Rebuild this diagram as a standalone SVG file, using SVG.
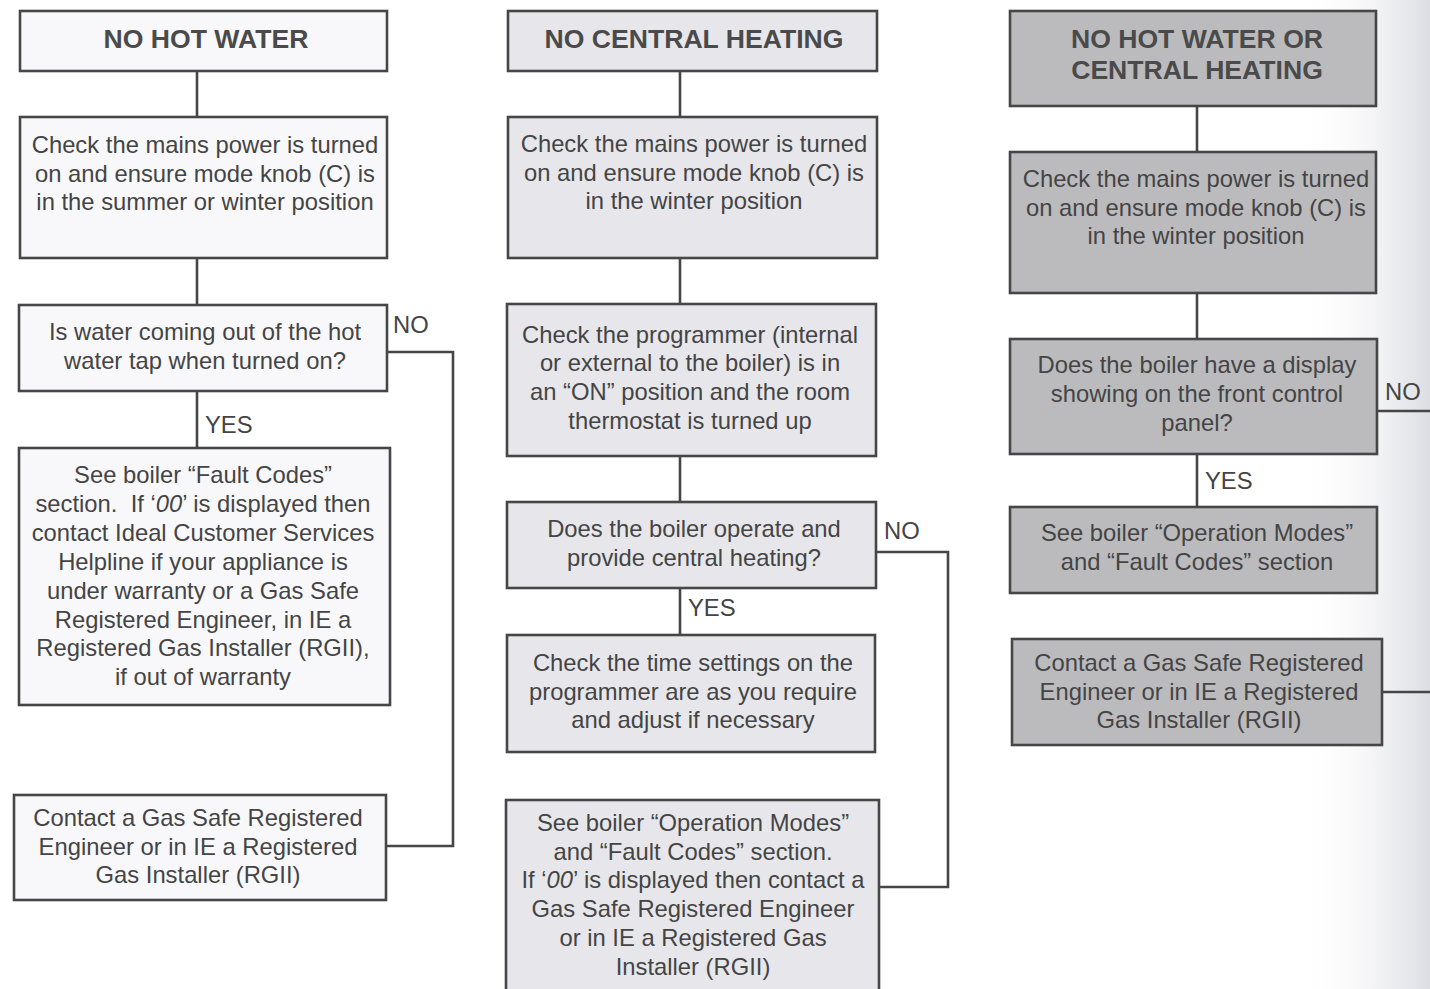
<svg xmlns="http://www.w3.org/2000/svg" width="1430" height="989" viewBox="0 0 1430 989">
<defs>
<linearGradient id="edge" x1="0" y1="0" x2="1" y2="0">
<stop offset="0" stop-color="#ffffff" stop-opacity="0"/>
<stop offset="1" stop-color="#dcdde3"/>
</linearGradient>
<style>
.box{stroke:#464646;stroke-width:2.6}
.c1{fill:#f8f8fb}
.c2{fill:#e7e7eb}
.c3{fill:#bbbbbe}
.t{font-family:"Liberation Sans",Arial,sans-serif;font-size:23.8px;fill:#444;text-anchor:middle}
.h{font-family:"Liberation Sans",Arial,sans-serif;font-size:26.6px;font-weight:bold;fill:#4a4a4a;text-anchor:middle}
.l{font-family:"Liberation Sans",Arial,sans-serif;font-size:23.8px;fill:#444}
.conn{fill:none;stroke:#464646;stroke-width:2.6}
</style>
</defs>
<rect width="1430" height="989" fill="#ffffff"/>
<rect x="1300" y="0" width="130" height="989" fill="url(#edge)"/>

<g id="connectors">
<path class="conn" d="M197 71V117M197 258V305M197 391V448"/>
<path class="conn" d="M387 352H453V846H385"/>
<path class="conn" d="M680 71V117M680 258V304M680 456V502M680 588V635"/>
<path class="conn" d="M876 552H948V887H879"/>
<path class="conn" d="M1197 106V152M1197 293V339M1197 454V507"/>
<path class="conn" d="M1377 411H1430M1382 692H1430"/>
</g>

<g id="labels">
<text class="l" x="393" y="333">NO</text>
<text class="l" x="205" y="433">YES</text>
<text class="l" x="884" y="539">NO</text>
<text class="l" x="688" y="616">YES</text>
<text class="l" x="1385" y="400">NO</text>
<text class="l" x="1205" y="489">YES</text>
</g>

<g id="n1-title"><rect class="box c1" x="20" y="11" width="367" height="60"/>
<text class="h" x="206" y="48">NO HOT WATER</text></g>
<g id="n1-power"><rect class="box c1" x="20" y="117" width="367" height="141"/>
<text class="t" x="205"><tspan x="205" y="153">Check the mains power is turned</tspan><tspan x="205" y="182">on and ensure mode knob (C) is</tspan><tspan x="205" y="210">in the summer or winter position</tspan></text></g>
<g id="n1-tap"><rect class="box c1" x="19" y="305" width="368" height="86"/>
<text class="t" x="205"><tspan x="205" y="340">Is water coming out of the hot</tspan><tspan x="205" y="369">water tap when turned on?</tspan></text></g>
<g id="n1-fault"><rect class="box c1" x="19" y="448" width="371" height="257"/>
<text class="t" x="203"><tspan x="203" y="483">See boiler “Fault Codes”</tspan><tspan x="203" y="512">section.&#160; If ‘<tspan font-style="italic">00</tspan>’ is displayed then</tspan><tspan x="203" y="541">contact Ideal Customer Services</tspan><tspan x="203" y="570">Helpline if your appliance is</tspan><tspan x="203" y="599">under warranty or a Gas Safe</tspan><tspan x="203" y="628">Registered Engineer, in IE a</tspan><tspan x="203" y="656">Registered Gas Installer (RGII),</tspan><tspan x="203" y="685">if out of warranty</tspan></text></g>
<g id="n1-contact"><rect class="box c1" x="14" y="795" width="372" height="105"/>
<text class="t" x="198"><tspan x="198" y="826">Contact a Gas Safe Registered</tspan><tspan x="198" y="855">Engineer or in IE a Registered</tspan><tspan x="198" y="883">Gas Installer (RGII)</tspan></text></g>

<g id="n2-title"><rect class="box c2" x="508" y="11" width="369" height="60"/>
<text class="h" x="694" y="48">NO CENTRAL HEATING</text></g>
<g id="n2-power"><rect class="box c2" x="508" y="117" width="369" height="141"/>
<text class="t" x="694"><tspan x="694" y="152">Check the mains power is turned</tspan><tspan x="694" y="181">on and ensure mode knob (C) is</tspan><tspan x="694" y="209">in the winter position</tspan></text></g>
<g id="n2-prog"><rect class="box c2" x="507" y="304" width="369" height="152"/>
<text class="t" x="690"><tspan x="690" y="343">Check the programmer (internal</tspan><tspan x="690" y="371">or external to the boiler) is in</tspan><tspan x="690" y="400">an “ON” position and the room</tspan><tspan x="690" y="429">thermostat is turned up</tspan></text></g>
<g id="n2-operate"><rect class="box c2" x="507" y="502" width="369" height="86"/>
<text class="t" x="694"><tspan x="694" y="537">Does the boiler operate and</tspan><tspan x="694" y="566">provide central heating?</tspan></text></g>
<g id="n2-time"><rect class="box c2" x="507" y="635" width="368" height="117"/>
<text class="t" x="693"><tspan x="693" y="671">Check the time settings on the</tspan><tspan x="693" y="700">programmer are as you require</tspan><tspan x="693" y="728">and adjust if necessary</tspan></text></g>
<g id="n2-modes"><rect class="box c2" x="506" y="800" width="373" height="200"/>
<text class="t" x="693"><tspan x="693" y="831">See boiler “Operation Modes”</tspan><tspan x="693" y="860">and “Fault Codes” section.</tspan><tspan x="693" y="888">If ‘<tspan font-style="italic">00</tspan>’ is displayed then contact a</tspan><tspan x="693" y="917">Gas Safe Registered Engineer</tspan><tspan x="693" y="946">or in IE a Registered Gas</tspan><tspan x="693" y="975">Installer (RGII)</tspan></text></g>

<g id="n3-title"><rect class="box c3" x="1010" y="11" width="366" height="95"/>
<text class="h" x="1197"><tspan x="1197" y="48">NO HOT WATER OR</tspan><tspan x="1197" y="79">CENTRAL HEATING</tspan></text></g>
<g id="n3-power"><rect class="box c3" x="1010" y="152" width="366" height="141"/>
<text class="t" x="1196"><tspan x="1196" y="187">Check the mains power is turned</tspan><tspan x="1196" y="216">on and ensure mode knob (C) is</tspan><tspan x="1196" y="244">in the winter position</tspan></text></g>
<g id="n3-display"><rect class="box c3" x="1010" y="339" width="367" height="115"/>
<text class="t" x="1197"><tspan x="1197" y="373">Does the boiler have a display</tspan><tspan x="1197" y="402">showing on the front control</tspan><tspan x="1197" y="431">panel?</tspan></text></g>
<g id="n3-modes"><rect class="box c3" x="1010" y="507" width="367" height="86"/>
<text class="t" x="1197"><tspan x="1197" y="541">See boiler “Operation Modes”</tspan><tspan x="1197" y="570">and “Fault Codes” section</tspan></text></g>
<g id="n3-contact"><rect class="box c3" x="1012" y="639" width="370" height="106"/>
<text class="t" x="1199"><tspan x="1199" y="671">Contact a Gas Safe Registered</tspan><tspan x="1199" y="700">Engineer or in IE a Registered</tspan><tspan x="1199" y="728">Gas Installer (RGII)</tspan></text></g>
</svg>
